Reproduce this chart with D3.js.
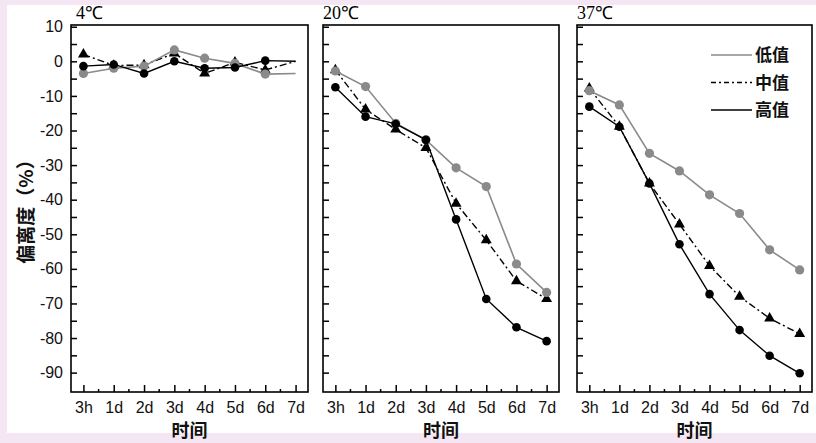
<!DOCTYPE html>
<html>
<head>
<meta charset="utf-8">
<script src="https://cdn.jsdelivr.net/npm/d3@7"></script>
<style>
  body { margin: 0; background: #f4e6f2; }
  svg { display: block; }
  .tick text { font-family: "Liberation Sans", Arial, sans-serif; font-size: 16px; fill: #111; }
  .cjk { font-family: "Noto Sans CJK SC", sans-serif; font-weight: bold; fill: #111; }
</style>
</head>
<body>
<div id="chart"></div>
<script>
// categories + tick labels
var categories = ["3h", "1d", "2d", "3d", "4d", "5d", "6d", "7d"];
var panelTitles = ["4℃", "20℃", "37℃"];
var yTickValues = [10, 5, 0, -5, -10, -15, -20, -25, -30, -35, -40, -45, -50, -55, -60, -65, -70, -75, -80, -85, -90];
var seriesNames = ["低值", "中值", "高值"];

// 4℃
var low4 = [-3.5, -2.0, -1.4, 3.3, 0.9, -0.6, -3.7, -3.5];
var mid4 = [2.0, -1.2, -1.1, 2.3, -3.5, -0.3, -2.5, 0];
var high4 = [-1.4, -0.9, -3.5, 0, -2.0, -1.8, 0.2, 0];
// 20℃
var low20 = [-2.8, -7.3, -17.9, -22.7, -30.8, -36.2, -58.6, -66.8];
var mid20 = [-2.5, -13.9, -19.7, -25.0, -41.1, -51.7, -63.5, -68.7];
var high20 = [-7.5, -16.0, -18.1, -22.7, -45.7, -68.7, -76.9, -80.9];
// 37℃
var low37 = [-8.5, -12.6, -26.6, -31.7, -38.6, -44.0, -54.5, -60.3];
var mid37 = [-7.8, -18.9, -35.3, -47.1, -59.1, -68.0, -74.3, -78.8];
var high37 = [-13.1, -18.9, -35.3, -52.9, -67.3, -77.7, -85.1, -90.2];

var panelLow = [low4, low20, low37];
var panelMid = [mid4, mid20, mid37];
var panelHigh = [high4, high20, high37];
// the 4℃ panel ends without markers at 7d
var lastMarker = [false, true, true];

var width = 816, height = 443;
var grey = "#8a8a8a";

var svg = d3.select("#chart").append("svg")
  .attr("width", width)
  .attr("height", height);

// white page area
svg.append("rect")
  .attr("x", 7).attr("y", 5)
  .attr("width", width - 7).attr("height", 428)
  .attr("fill", "#fff");

var panelX = [[71, 308], [323, 559], [577, 812]];
var plotTop = 25, plotBottom = 392;

var y = d3.scaleLinear().domain([-95.6, 10.5]).range([plotBottom, plotTop]);

panelX.forEach(function(px, p) {
  var g = svg.append("g");

  var x = d3.scalePoint().domain(categories).range(px).padding(0.41);

  // y ticks (inside), labels only on first panel
  var yAxis = d3.axisLeft(y)
    .tickValues(yTickValues)
    .tickSize(-6)
    .tickPadding(8)
    .tickFormat(function(d) {
      return (p === 0 && d % 10 === 0) ? d : "";
    });
  var ya = g.append("g")
    .attr("transform", "translate(" + px[0] + ",0)")
    .call(yAxis);
  ya.select(".domain").remove();
  ya.selectAll(".tick line").attr("stroke", "#000").attr("stroke-width", 1.5);

  // x ticks (inside)
  var xAxis = d3.axisBottom(x).tickSize(-7).tickPadding(10);
  var xa = g.append("g")
    .attr("transform", "translate(0," + plotBottom + ")")
    .call(xAxis);
  xa.select(".domain").remove();
  xa.selectAll(".tick line").attr("stroke", "#000").attr("stroke-width", 1.5);

  // minor x ticks between categories
  var mids = [];
  for (var i = 0; i < categories.length - 1; i++) {
    mids.push((x(categories[i]) + x(categories[i + 1])) / 2);
  }
  g.selectAll(".minor").data(mids).enter().append("line")
    .attr("x1", function(d) { return d; })
    .attr("x2", function(d) { return d; })
    .attr("y1", plotBottom)
    .attr("y2", plotBottom - 3)
    .attr("stroke", "#000")
    .attr("stroke-width", 1.5);

  // frame
  g.append("rect")
    .attr("x", px[0]).attr("y", plotTop)
    .attr("width", px[1] - px[0]).attr("height", plotBottom - plotTop)
    .attr("fill", "none")
    .attr("stroke", "#000")
    .attr("stroke-width", 1.6);

  // title
  g.append("text")
    .attr("x", p === 0 ? px[0] + 5 : px[0])
    .attr("y", 19)
    .attr("font-family", "Liberation Serif, serif")
    .attr("font-size", 18)
    .attr("fill", "#000")
    .text(panelTitles[p]);

  // x axis title
  g.append("text")
    .attr("class", "cjk")
    .attr("x", (px[0] + px[1]) / 2)
    .attr("y", 437)
    .attr("text-anchor", "middle")
    .attr("font-size", 18)
    .text("时间");

  var line = d3.line()
    .x(function(d, i) { return x(categories[i]); })
    .y(function(d) { return y(d); });

  var n = lastMarker[p] ? categories.length : categories.length - 1;

  // mid - dash dot with triangles
  g.append("path")
    .datum(panelMid[p])
    .attr("d", line)
    .attr("fill", "none")
    .attr("stroke", "#000")
    .attr("stroke-width", 1.4)
    .attr("stroke-dasharray", "7,3,2,3");
  g.selectAll(".tri").data(panelMid[p].slice(0, n)).enter().append("path")
    .attr("d", d3.symbol().type(d3.symbolTriangle).size(52))
    .attr("transform", function(d, i) {
      return "translate(" + x(categories[i]) + "," + y(d) + ")";
    })
    .attr("fill", "#000");

  // low - grey
  g.append("path")
    .datum(panelLow[p])
    .attr("d", line)
    .attr("fill", "none")
    .attr("stroke", grey)
    .attr("stroke-width", 1.6);
  g.selectAll(".lowdot").data(panelLow[p].slice(0, n)).enter().append("circle")
    .attr("cx", function(d, i) { return x(categories[i]); })
    .attr("cy", function(d) { return y(d); })
    .attr("r", 4.6)
    .attr("fill", grey);

  // high - black solid
  g.append("path")
    .datum(panelHigh[p])
    .attr("d", line)
    .attr("fill", "none")
    .attr("stroke", "#000")
    .attr("stroke-width", 1.4);
  g.selectAll(".highdot").data(panelHigh[p].slice(0, n)).enter().append("circle")
    .attr("cx", function(d, i) { return x(categories[i]); })
    .attr("cy", function(d) { return y(d); })
    .attr("r", 4.3)
    .attr("fill", "#000");
});

// y axis title
svg.append("text")
  .attr("class", "cjk")
  .attr("font-size", 19)
  .attr("text-anchor", "middle")
  .attr("transform", "translate(33,207) rotate(-90)")
  .text("偏离度（%）");

// legend
var legendStyles = [
  { stroke: grey, dash: null },
  { stroke: "#000", dash: "5,3,2,3" },
  { stroke: "#000", dash: null }
];
var legend = svg.selectAll(".legend").data(seriesNames).enter().append("g")
  .attr("transform", function(d, i) { return "translate(0," + (55 + i * 27.5) + ")"; });
legend.append("line")
  .attr("x1", 711).attr("x2", 752)
  .attr("y1", 0).attr("y2", 0)
  .attr("stroke", function(d, i) { return legendStyles[i].stroke; })
  .attr("stroke-width", 1.5)
  .attr("stroke-dasharray", function(d, i) { return legendStyles[i].dash; });
legend.append("text")
  .attr("class", "cjk")
  .attr("x", 755)
  .attr("y", 6)
  .attr("font-size", 17)
  .text(function(d) { return d; });
</script>
</body>
</html>
